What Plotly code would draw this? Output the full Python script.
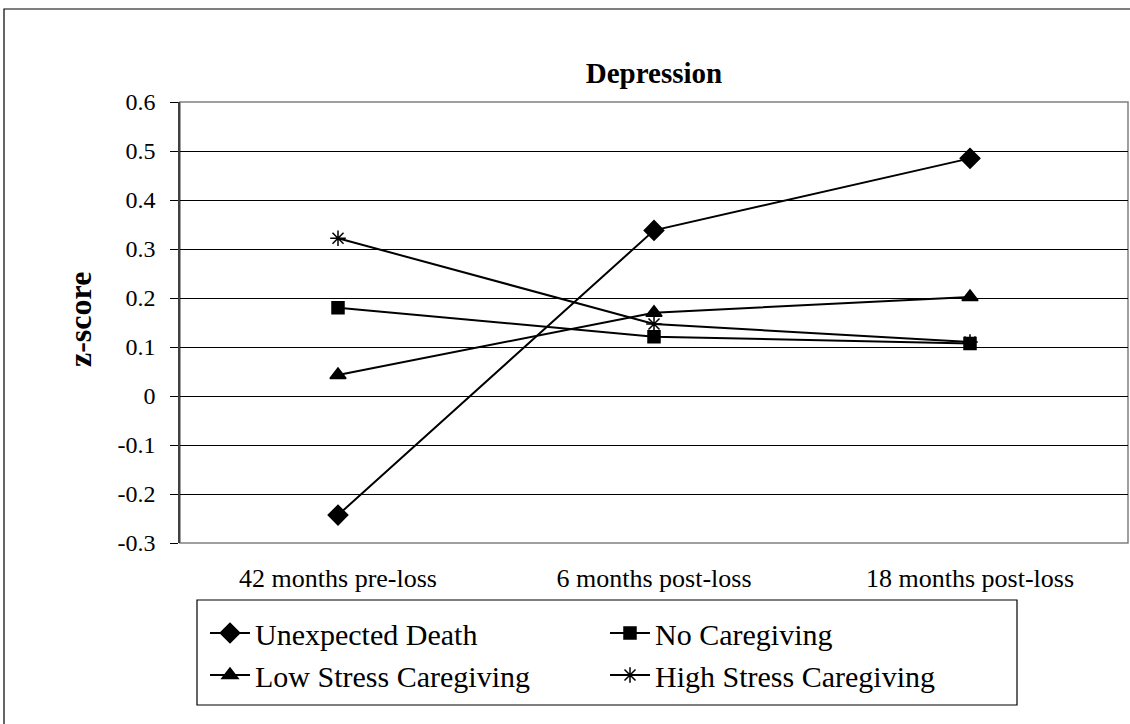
import plotly.graph_objects as go

categories = ["42 months pre-loss", "6 months post-loss", "18 months post-loss"]
unexpected_death = [-0.243, 0.338, 0.485]
no_caregiving = [0.180, 0.121, 0.107]
low_stress = [0.043, 0.170, 0.202]
high_stress = [0.322, 0.147, 0.110]
y_ticks = [0.6, 0.5, 0.4, 0.3, 0.2, 0.1, 0, -0.1, -0.2, -0.3]
y_tick_text = ["0.6", "0.5", "0.4", "0.3", "0.2", "0.1", "0", "-0.1", "-0.2", "-0.3"]

FONT = "Liberation Serif, Times New Roman, serif"
W, H = 1130, 724
L, R, T, B = 180, 2, 102, 181
pw = W - L - R
ph = H - T - B


def px_x(p):
    return (p - L) / pw


def px_y(p):
    return (H - B - p) / ph


series = [
    ("Unexpected Death", unexpected_death, "diamond", 15),
    ("No Caregiving", no_caregiving, "square", 12),
    ("Low Stress Caregiving", low_stress, "triangle-up", 14),
    ("High Stress Caregiving", high_stress, "asterisk-open", 13),
]

fig = go.Figure()
for name, vals, sym, size in series:
    fig.add_trace(go.Scatter(
        x=list(range(len(categories))), y=vals, name=name, mode="lines+markers",
        line=dict(color="black", width=2),
        marker=dict(symbol=sym, size=size, color="black",
                    line=dict(color="black", width=1.5)),
    ))

fig.update_layout(
    width=W, height=H,
    margin=dict(l=L, r=R, t=T, b=B, pad=0),
    paper_bgcolor="white", plot_bgcolor="white",
    font=dict(family=FONT, color="black", size=24),
    title=dict(text="<b>Depression</b>", x=0.5, xref="paper", xanchor="center",
               y=1 - 73 / H, yref="container", yanchor="middle",
               font=dict(size=29, family=FONT, color="black")),
    xaxis=dict(range=[-0.5, 2.5], tickvals=list(range(len(categories))), ticktext=categories,
               showgrid=False, zeroline=False, showline=False, ticks="",
               tickfont=dict(size=26, family=FONT), ticklabelstandoff=17),
    xaxis2=dict(range=[-0.5, 2.5], overlaying="x", anchor="free", position=0.3 / 0.9,
                side="bottom", tickvals=[0.5, 1.5], ticks="outside", ticklen=7, tickwidth=1,
                tickcolor="black", showticklabels=False, showline=True, linecolor="black",
                linewidth=1, showgrid=False, zeroline=False),
    yaxis=dict(range=[-0.3, 0.6], tickvals=y_ticks, ticktext=y_tick_text,
               showgrid=True, gridcolor="black", gridwidth=1, zeroline=False,
               showline=True, linecolor="#404040", linewidth=1.5,
               ticks="outside", ticklen=8, tickcolor="black",
               tickfont=dict(size=24, family=FONT), ticklabelstandoff=10),
    legend=dict(orientation="h", x=px_x(205), xanchor="left", y=px_y(607),
                yanchor="top", borderwidth=0, bgcolor="rgba(0,0,0,0)",
                font=dict(size=30, family=FONT), entrywidth=345, entrywidthmode="pixels",
                itemwidth=40, tracegroupgap=0),
    showlegend=True,
)

# axis title
fig.add_annotation(text="<b>z-score</b>", textangle=-90, xref="paper", yref="paper",
                   x=px_x(80), y=px_y(320), xanchor="center", yanchor="middle",
                   showarrow=False, font=dict(size=32, family=FONT, color="black"))

# plot area border (grey), legend frame and outer chart border
fig.add_shape(type="rect", xref="paper", yref="paper", x0=0, x1=1, y0=0, y1=1,
              line=dict(color="#808080", width=1.5), layer="below")
fig.add_shape(type="rect", xref="paper", yref="paper",
              x0=px_x(197), x1=px_x(1017), y0=px_y(705), y1=px_y(600),
              line=dict(color="black", width=1.2))
fig.add_shape(type="rect", xref="paper", yref="paper",
              x0=px_x(4), x1=px_x(W + 10), y0=px_y(H + 10), y1=px_y(9),
              line=dict(color="black", width=1.2), layer="below")

fig.write_html("out.html", config={"displayModeBar": False},
               post_script="document.body.style.margin='0px';")
